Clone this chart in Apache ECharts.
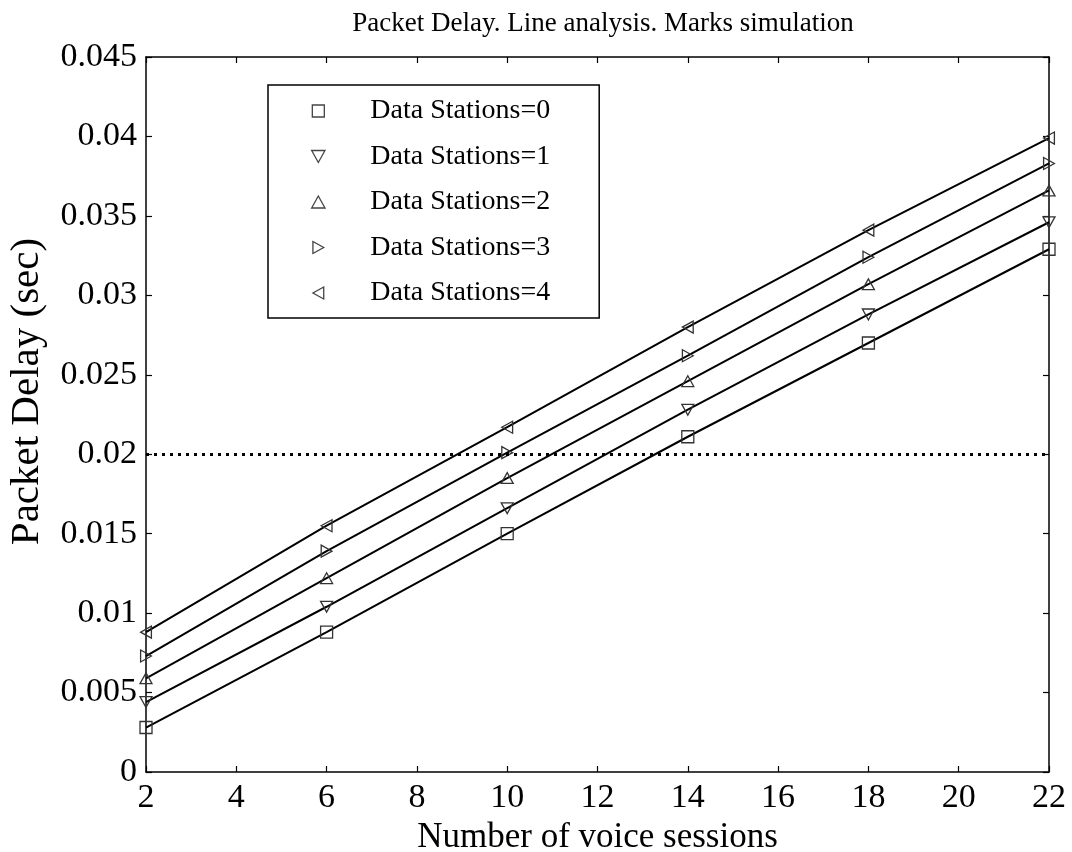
<!DOCTYPE html>
<html>
<head>
<meta charset="utf-8">
<script src="https://cdn.jsdelivr.net/npm/echarts@6/dist/echarts.min.js"></script>
<style>html,body{margin:0;padding:0;background:#fff;}#c{width:1072px;height:852px;}</style>
</head>
<body>
<div id="c"></div>
<script>
const voiceSessions = [2, 6, 10, 14, 18, 22];
const seriesNames = ['Data Stations=0', 'Data Stations=1', 'Data Stations=2', 'Data Stations=3', 'Data Stations=4'];
const delayDS0 = [0.0028, 0.0088, 0.0150, 0.0211, 0.0270, 0.0329];
const delayDS1 = [0.0044, 0.0104, 0.0166, 0.0228, 0.0288, 0.0346];
const delayDS2 = [0.0059, 0.0122, 0.0185, 0.0246, 0.0307, 0.0366];
const delayDS3 = [0.0073, 0.0139, 0.0201, 0.0262, 0.0324, 0.0383];
const delayDS4 = [0.0088, 0.0155, 0.0217, 0.0280, 0.0341, 0.0399];
const thresholdDelay = 0.02;
const titleText = 'Packet Delay. Line analysis. Marks simulation';
const xName = 'Number of voice sessions';
const yName = 'Packet Delay (sec)';

const allDelays = [delayDS0, delayDS1, delayDS2, delayDS3, delayDS4];
const symbols = [
  'path://M0,0 H10 V10 H0 Z',
  'path://M0,0 L10,0 L5,9 Z',
  'path://M5,0 L10,9 L0,9 Z',
  'path://M0,0 L9,5 L0,10 Z',
  'path://M9,0 L0,5 L9,10 Z'
];
const FONT = 'Liberation Serif';

const series = allDelays.map((vals, i) => ({
  name: seriesNames[i],
  type: 'line',
  data: voiceSessions.map((x, j) => [x, vals[j]]),
  symbol: symbols[i],
  symbolSize: 12,
  symbolKeepAspect: true,
  showAllSymbol: true,
  lineStyle: { color: '#000', width: 2 },
  itemStyle: { color: 'rgba(0,0,0,0)', borderColor: '#333', borderWidth: 1.3 },
  emphasis: { disabled: true },
  animation: false,
  z: 3,
  markLine: i === 0 ? {
    silent: true,
    symbol: 'none',
    label: { show: false },
    lineStyle: { color: '#000', type: [3, 5], width: 3 },
    data: [{ yAxis: thresholdDelay }]
  } : undefined
}));

const chart = echarts.init(document.getElementById('c'));
chart.setOption({
  animation: false,
  backgroundColor: '#fff',
  title: {
    text: titleText,
    left: 598,
    top: 5,
    textAlign: 'center',
    textStyle: { fontFamily: FONT, fontWeight: 'normal', fontSize: 27, color: '#000' }
  },
  grid: { left: 146, right: 23, top: 57, bottom: 80, outerBoundsMode: 'none', containLabel: false },
  legend: {
    orient: 'vertical',
    left: 268,
    top: 85,
    padding: [12, 49, 11, 43],
    itemGap: 17.5,
    itemWidth: 14,
    itemHeight: 12,
    backgroundColor: '#fff',
    borderColor: '#000',
    borderWidth: 1.5,
    borderRadius: 0,
    selectedMode: false,
    data: seriesNames.map((n, i) => ({ name: n, icon: symbols[i] })),
    itemStyle: { color: 'rgba(0,0,0,0)', borderColor: '#444', borderWidth: 1.3 },
    lineStyle: { width: 0 },
    textStyle: { fontFamily: FONT, fontSize: 28, color: '#000', padding: [0, 0, 0, 40] }
  },
  xAxis: [{
    type: 'value', min: 2, max: 22, interval: 2,
    name: xName, nameLocation: 'middle', nameGap: 42,
    nameTextStyle: { fontFamily: FONT, fontSize: 35, color: '#000' },
    axisLine: { show: true, onZero: false, lineStyle: { color: '#000', width: 1.5 } },
    axisTick: { show: true, inside: true, length: 6, lineStyle: { color: '#000', width: 1.2 } },
    axisLabel: { fontFamily: FONT, fontSize: 34, color: '#000', margin: 9 },
    splitLine: { show: false }
  }, {
    type: 'value', min: 2, max: 22, interval: 2, position: 'top',
    axisLine: { show: true, onZero: false, lineStyle: { color: '#000', width: 1.5 } },
    axisTick: { show: true, inside: true, length: 6, lineStyle: { color: '#000', width: 1.2 } },
    axisLabel: { show: false },
    splitLine: { show: false }
  }],
  yAxis: [{
    type: 'value', min: 0, max: 0.045, interval: 0.005,
    name: yName, nameLocation: 'middle', nameGap: 98,
    nameTextStyle: { fontFamily: FONT, fontSize: 41, color: '#000', padding: [0, 0, 0, 46] },
    axisLine: { show: true, onZero: false, lineStyle: { color: '#000', width: 1.5 } },
    axisTick: { show: true, inside: true, length: 6, lineStyle: { color: '#000', width: 1.2 } },
    axisLabel: { fontFamily: FONT, fontSize: 34, color: '#000', margin: 9 },
    splitLine: { show: false }
  }, {
    type: 'value', min: 0, max: 0.045, interval: 0.005, position: 'right',
    axisLine: { show: true, onZero: false, lineStyle: { color: '#000', width: 1.5 } },
    axisTick: { show: true, inside: true, length: 6, lineStyle: { color: '#000', width: 1.2 } },
    axisLabel: { show: false },
    splitLine: { show: false }
  }],
  series: series
});
</script>
</body>
</html>
